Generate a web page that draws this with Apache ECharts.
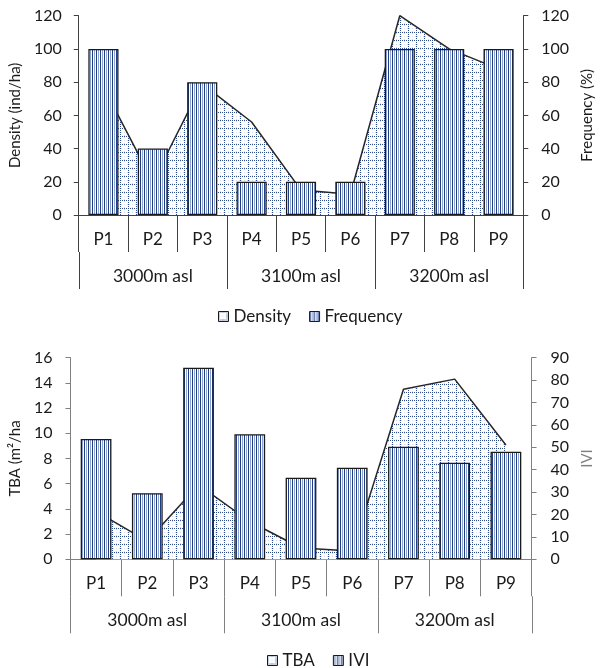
<!DOCTYPE html>
<html><head><meta charset="utf-8">
<script src="https://cdn.jsdelivr.net/npm/echarts@6/dist/echarts.min.js"></script>
<style>html,body{margin:0;padding:0;background:#fff}#c{width:603px;height:668px}</style>
</head><body><div id="c"></div>
<script>
// ---- data ----
const plots = ['P1', 'P2', 'P3', 'P4', 'P5', 'P6', 'P7', 'P8', 'P9'];
const elevations = ['3000m asl', '3100m asl', '3200m asl'];
const plotsPerElevation = 3;
const density = [77, 20, 79, 56, 15, 12.5, 120, 100, 88];
const frequency = [100, 40, 80, 20, 20, 20, 100, 100, 100];
const tba = [3.8, 1.45, 5.9, 3.0, 0.9, 0.65, 13.5, 14.3, 9.07];
const ivi = [53.7, 29.5, 85.5, 55.8, 36.4, 40.9, 50.3, 43.1, 48.0];
const densityScale = [0, 120, 20];
const frequencyScale = [0, 120, 20];
const tbaScale = [0, 16, 2];
const iviScale = [0, 90, 10];

// ---- patterns ----
function stripePattern() {
  const c = document.createElement('canvas'); c.width = 4; c.height = 4;
  const g = c.getContext('2d');
  g.fillStyle = '#ffffff'; g.fillRect(0, 0, 4, 4);
  g.fillStyle = '#1f3d80'; g.fillRect(0, 0, 1, 4);
  g.fillStyle = '#8ea3d2'; g.fillRect(2, 0, 1, 4);
  return c;
}
function gridPattern() {
  const n = 8;
  const c = document.createElement('canvas'); c.width = n; c.height = n;
  const g = c.getContext('2d');
  g.fillStyle = '#ffffff'; g.fillRect(0, 0, n, n);
  g.fillStyle = '#d3dcef';
  for (let i = 1; i < n; i += 3) { g.fillRect(i, 4, 1, 1); g.fillRect(4, i, 1, 1); }
  g.fillStyle = '#2e4c8c';
  for (let i = 0; i < n; i += 2) { g.fillRect(i, 0, 1, 1); g.fillRect(0, i, 1, 1); }
  return c;
}
const stripes = { image: stripePattern(), repeat: 'repeat' };
const dots = { image: gridPattern(), repeat: 'repeat' };

const FONT = 'Lato';
const TXT = '#1a1a1a';
const TOP_AXIS = '#404040', BOT_AXIS = '#808080';
const TICK_LEN = 37;
const ts = (size, color) => ({ fontFamily: FONT, fontSize: size, color: color || TXT });

function yAx(grid, scale, name, gap, axisColor, nameColor, margin) {
  return {
    type: 'value', gridIndex: grid, min: scale[0], max: scale[1], interval: scale[2],
    axisLine: { show: true, lineStyle: { color: axisColor, width: 1 } },
    axisTick: { show: true, length: 5, lineStyle: { color: axisColor } },
    splitLine: { show: false },
    axisLabel: Object.assign({ margin: margin }, ts(16)),
    name: name, nameLocation: 'middle', nameRotate: 90, nameGap: gap,
    nameTextStyle: ts(15, nameColor)
  };
}
function xP(grid, axisColor) {
  return {
    type: 'category', gridIndex: grid, data: plots, position: 'bottom',
    axisLine: { show: true, lineStyle: { color: axisColor } },
    axisTick: { show: true, interval: 0, length: TICK_LEN, lineStyle: { color: axisColor } },
    axisLabel: Object.assign({ margin: 16, interval: 0 }, ts(17))
  };
}
const legendItem = (name, fill) => ({ name: name, icon: 'rect',
  itemStyle: { color: fill, borderColor: '#1a1a1a', borderWidth: 1 } });

const chart = echarts.init(document.getElementById('c'), null, { renderer: 'canvas' });
chart.setOption({
  backgroundColor: '#ffffff',
  animation: false,
  grid: [
    { left: 78.3, right: 71, top: 15.7, height: 199.3 },
    { left: 69.5, right: 60.5, top: 357.7, height: 201.6 }
  ],
  legend: [
    { left: 213, top: 303, itemWidth: 10, itemHeight: 10, itemGap: 18, textStyle: ts(17),
      data: [legendItem('Density', dots), legendItem('Frequency', stripes)] },
    { left: 262, top: 647, itemWidth: 10, itemHeight: 10, itemGap: 18, textStyle: ts(17),
      data: [legendItem('TBA', dots), legendItem('IVI', stripes)] }
  ],
  xAxis: [xP(0, TOP_AXIS), xP(1, BOT_AXIS)],
  yAxis: [
    yAx(0, densityScale, 'Density (ind/ha)', 52, TOP_AXIS, TXT, 17),
    yAx(0, frequencyScale, 'Frequency (%)', 50, TOP_AXIS, TXT, 18),
    yAx(1, tbaScale, 'TBA (m²/ha', 45, BOT_AXIS, TXT, 18),
    yAx(1, iviScale, 'IVI', 48, BOT_AXIS, BOT_AXIS, 19)
  ],
  series: [
    { name: 'Density', type: 'line', xAxisIndex: 0, yAxisIndex: 0, data: density, z: 1,
      symbol: 'none', lineStyle: { color: '#262626', width: 1.5 },
      itemStyle: { color: '#262626' }, areaStyle: { color: dots, opacity: 1 } },
    { name: 'Frequency', type: 'bar', xAxisIndex: 0, yAxisIndex: 1, data: frequency, z: 2,
      barWidth: '61%', itemStyle: { color: stripes, borderColor: '#1a1a1a', borderWidth: 1.3 } },
    { name: 'TBA', type: 'line', xAxisIndex: 1, yAxisIndex: 2, data: tba, z: 1,
      symbol: 'none', lineStyle: { color: '#262626', width: 1.5 },
      itemStyle: { color: '#262626' }, areaStyle: { color: dots, opacity: 1 } },
    { name: 'IVI', type: 'bar', xAxisIndex: 1, yAxisIndex: 3, data: ivi, z: 2,
      barWidth: '60%', itemStyle: { color: stripes, borderColor: '#1a1a1a', borderWidth: 1.3 } }
  ]
});

// elevation-group row (separators + labels), positioned from the plot axis scale
function groupRow(xIdx, yIdx, color) {
  const c0 = chart.convertToPixel({ xAxisIndex: xIdx }, plots[0]);
  const c1 = chart.convertToPixel({ xAxisIndex: xIdx }, plots[1]);
  const band = c1 - c0;
  const y0 = chart.convertToPixel({ yAxisIndex: yIdx }, 0);
  const left = c0 - band / 2;
  const out = [];
  for (let k = 0; k <= plots.length; k += plotsPerElevation) {
    const x = Math.round(left + k * band) + 0.5;
    out.push({ type: 'line', silent: true, z: 10,
      shape: { x1: x, y1: y0 + TICK_LEN, x2: x, y2: y0 + 2 * TICK_LEN },
      style: { stroke: color, lineWidth: 1 } });
  }
  elevations.forEach((name, g) => {
    out.push({ type: 'text', silent: true, z: 10,
      x: left + (g + 0.5) * plotsPerElevation * band, y: y0 + TICK_LEN + 24.5,
      style: { text: name, fill: TXT, font: '17.5px ' + FONT, align: 'center', verticalAlign: 'middle' } });
  });
  return out;
}
chart.setOption({ graphic: groupRow(0, 0, TOP_AXIS).concat(groupRow(1, 2, BOT_AXIS)) });
</script></body></html>
